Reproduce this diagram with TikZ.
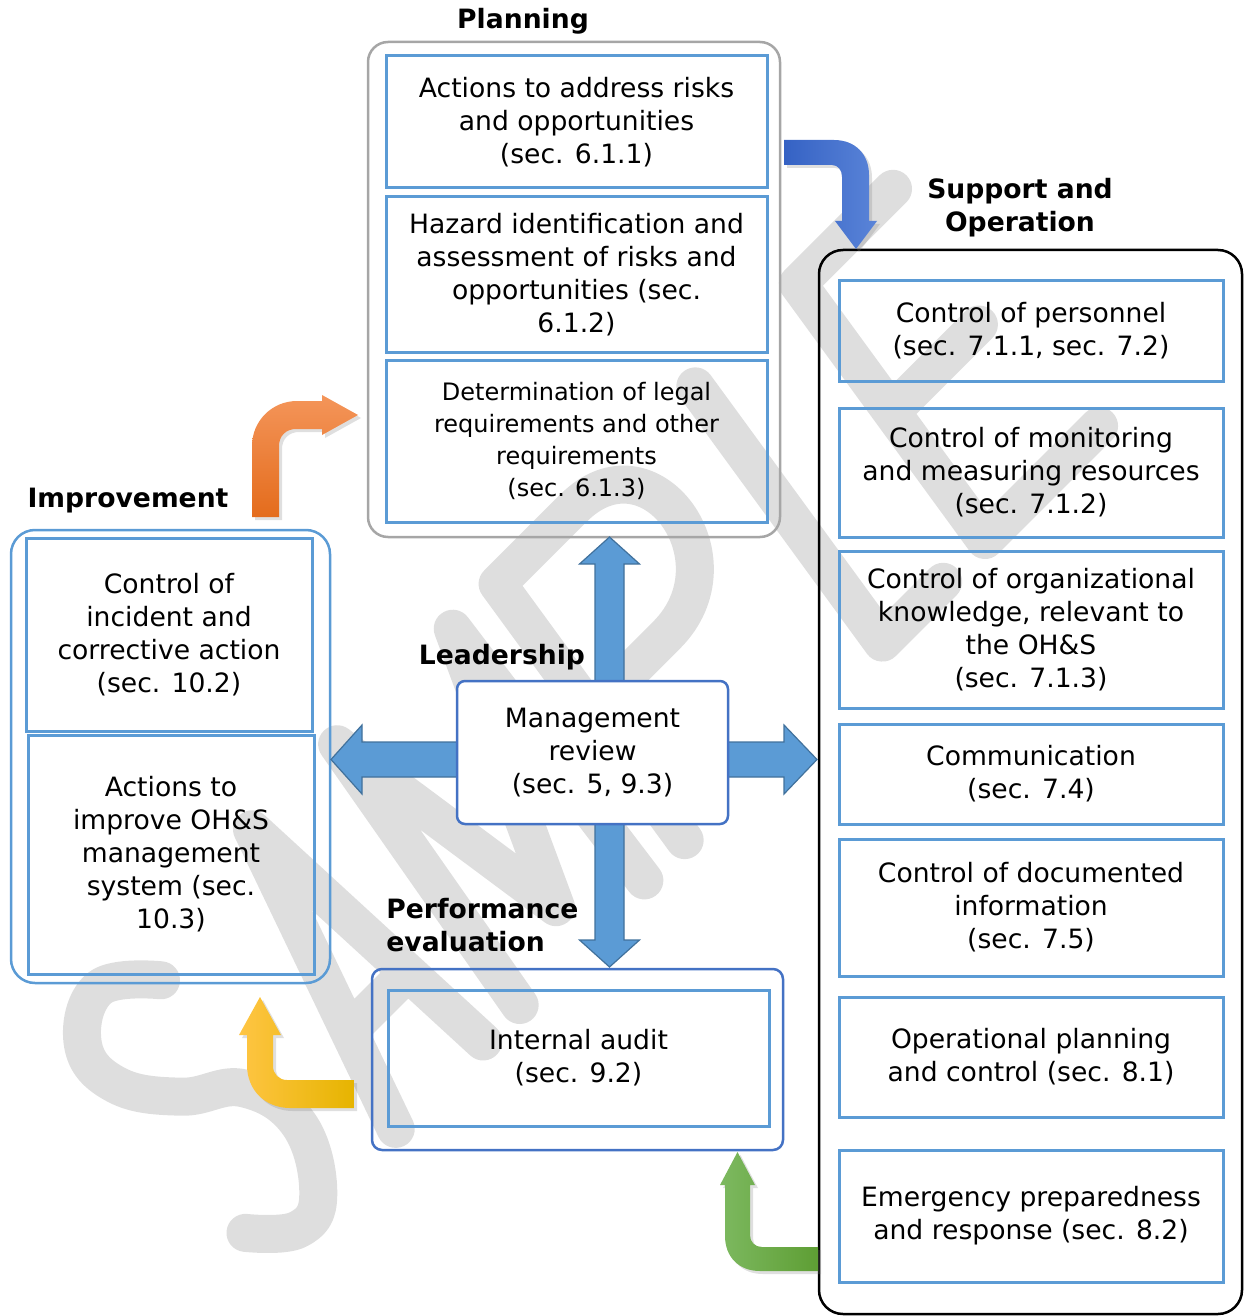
\documentclass[tikz,border=0pt]{standalone}
\usepackage{fontspec}
\setmainfont{DejaVu Sans}
\usetikzlibrary{shadows}
\definecolor{boxblue}{HTML}{5B9BD5}
\definecolor{darkblue}{HTML}{4472C4}
\definecolor{rimgray}{HTML}{A6A6A6}
\definecolor{arrowedge}{HTML}{41719C}
\definecolor{wmgray}{HTML}{DEDEDE}
\definecolor{orangetop}{HTML}{F4955A}
\definecolor{orangebot}{HTML}{E46C1C}
\definecolor{bluel}{HTML}{3562C4}
\definecolor{bluer}{HTML}{5A84D8}
\definecolor{yellowl}{HTML}{FFC544}
\definecolor{yellowm}{HTML}{FFC61A}
\definecolor{yellowr}{HTML}{E6B400}
\definecolor{greenl}{HTML}{7DB960}
\definecolor{greenr}{HTML}{5E9E34}

\tikzset{
  secbox/.style={draw=boxblue, line width=1.5pt, align=center, inner sep=0pt},
  grpbox/.style={rounded corners=12pt, line width=1.25pt, inner sep=0pt},
  headline/.style={font=\fontsize{13.3}{16.5}\selectfont\bfseries, align=center, inner sep=0pt},
  wmark/.style={draw=wmgray, line width=19pt, line cap=round, line join=round},
  bent/.style={drop shadow={opacity=0.25, shadow xshift=1.5pt, shadow yshift=-1.5pt}}
}

\begin{document}
\begin{tikzpicture}[x=0.5pt, y=-0.5pt, font=\fontsize{13.3}{16.5}\selectfont]
  \useasboundingbox (0,0) rectangle (1244,1316);

  % watermark letters, laid along a tilted baseline
  \begin{scope}[shift={(985,540)}, yscale=1.17, rotate=40.5]
    \draw[wmark] plot[smooth, tension=0.7] coordinates {(-871,-249) (-922,-284) (-966,-258) (-963,-210) (-920,-160) (-868,-125) (-846,-66) (-870,-8) (-905,2) (-947,-30)};
    \draw[wmark] (-775,0) -- (-718,-288) -- (-660,0) (-755,-94) -- (-681,-94);
    \draw[wmark] (-612,0) -- (-606,-288) -- (-530,-40) -- (-454,-288) -- (-448,0);
    \draw[wmark] (-395,0) -- (-395,-288) -- (-295,-288) .. controls (-195,-288) and (-195,-145) .. (-295,-145) -- (-395,-145);
    \draw[wmark] (-135,-288) -- (-135,0) -- (-55,0);
    \draw[wmark] (125,-288) -- (0,-288) -- (0,0) -- (150,0) (0,-144) -- (115,-144);
  \end{scope}

  % group frames
  \node[grpbox, draw=rimgray, rounded corners=10pt, minimum width=206pt, minimum height=247.5pt] (plan) at (574,289.5) {};
  \node[grpbox, draw=black, minimum width=211.5pt, minimum height=532pt] (supp) at (1030.5,782) {};
  \node[grpbox, draw=boxblue, minimum width=159.5pt, minimum height=226.5pt] (impr) at (170.5,756.5) {};
  \node[grpbox, draw=darkblue, rounded corners=5pt, minimum width=205.5pt, minimum height=90.5pt] (perf) at (577.5,1059.5) {};

  % group titles
  \node[headline] (plantitle) at (523,21) {Planning};
  \node[headline] (supptitle) at (1020,208) {Support and\\Operation};
  \node[headline] (imprtitle) at (128,501) {Improvement};
  \node[headline] (leadtitle) at (502,657) {Leadership};
  \node[headline, anchor=west, align=left] (perftitle) at (386,925) {Performance\\evaluation};

  % planning
  \node[secbox, minimum width=190.5pt, minimum height=66pt] (risks) at (576.5,122) {Actions to address risks\\and opportunities\\(sec. 6.1.1)};
  \node[secbox, minimum width=190.5pt, minimum height=77.5pt] (hazard) at (576.5,274.5) {Hazard identification and\\assessment of risks and\\opportunities (sec.\\6.1.2)};
  \node[secbox, minimum width=190.5pt, minimum height=81pt, font=\fontsize{12}{16}\selectfont] (legal) at (576.5,441) {Determination of legal\\requirements and other\\requirements\\(sec. 6.1.3)};

  % support and operation
  \foreach \n/\y/\h/\t in {
    personnel/330.5/50.5/{Control of personnel\\(sec. 7.1.1, sec. 7.2)},
    monitoring/472.5/64.5/{Control of monitoring\\and measuring resources\\(sec. 7.1.2)},
    knowledge/629.5/78.5/{Control of organizational\\knowledge, relevant to\\the OH\&S\\(sec. 7.1.3)},
    communication/774/50/{Communication\\(sec. 7.4)},
    documented/907.5/68.5/{Control of documented\\information\\(sec. 7.5)},
    operational/1057/60/{Operational planning\\and control (sec. 8.1)},
    emergency/1216/66/{Emergency preparedness\\and response (sec. 8.2)}}
    \node[secbox, minimum width=192pt, minimum height=\h pt] (\n) at (1031,\y) {\t};

  % improvement
  \node[secbox, minimum width=143pt, minimum height=96.5pt] (incident) at (169,634.5) {Control of\\incident and\\corrective action\\(sec. 10.2)};
  \node[secbox, minimum width=143pt, minimum height=119.5pt] (improve) at (171,854.5) {Actions to\\improve OH\&S\\management\\system (sec.\\10.3)};

  % performance evaluation
  \node[secbox, minimum width=190.5pt, minimum height=68pt] (audit) at (578.5,1058) {Internal audit\\(sec. 9.2)};

  % four-way arrow behind the review box
  \filldraw[fill=boxblue, draw=arrowedge, line width=0.6pt]
    (609.5,537) -- (639.5,564) -- (624,564) -- (624,742) -- (784,742) -- (784,725) -- (817,759.5)
    -- (784,794) -- (784,777) -- (624,777) -- (624,940) -- (639.5,940) -- (609.5,967) -- (579.5,940)
    -- (595,940) -- (595,777) -- (362,777) -- (362,794) -- (331,759.5) -- (362,725) -- (362,742)
    -- (595,742) -- (595,564) -- (579.5,564) -- cycle;

  % leadership
  \node[draw=darkblue, fill=white, line width=1.25pt, rounded corners=4pt, align=center, inner sep=0pt,
        minimum width=135.5pt, minimum height=71.5pt] (review) at (592.5,752.5) {Management\\review\\(sec. 5, 9.3)};

  % bent arrows between the groups
  \shade[bent, top color=orangetop, bottom color=orangebot]
    (252,517) -- (252,446) .. controls (252,421) and (272,401) .. (297,401) -- (322,401) -- (322,395)
    -- (358,415) -- (322,435) -- (322,429) -- (296,429) .. controls (286,429) and (279,436) .. (279,446)
    -- (279,517) -- cycle;
  \shade[bent, left color=bluel, right color=bluer]
    (784,140) -- (834,140) .. controls (855,140) and (869,154) .. (869,175) -- (869,221) -- (877,221)
    -- (856,249) -- (835,221) -- (842,221) -- (842,177) .. controls (842,170) and (838,165) .. (832,165)
    -- (784,165) -- cycle;
  \shade[bent, left color=yellowl, middle color=yellowm, right color=yellowr]
    (247,1035) -- (247,1065) .. controls (247,1090) and (265,1108) .. (290,1108) -- (354,1108)
    -- (354,1080) -- (287,1080) .. controls (279,1080) and (273,1074) .. (273,1066) -- (273,1035)
    -- (281,1035) -- (260,997) -- (239,1035) -- cycle;
  \shade[bent, left color=greenl, right color=greenr]
    (725,1185) -- (725,1236) .. controls (725,1257) and (739,1271) .. (760,1271) -- (818,1271)
    -- (818,1247) -- (762,1247) .. controls (755,1247) and (750,1242) .. (750,1235) -- (750,1185)
    -- (755,1185) -- (737.5,1152) -- (720,1185) -- cycle;
\end{tikzpicture}
\end{document}
